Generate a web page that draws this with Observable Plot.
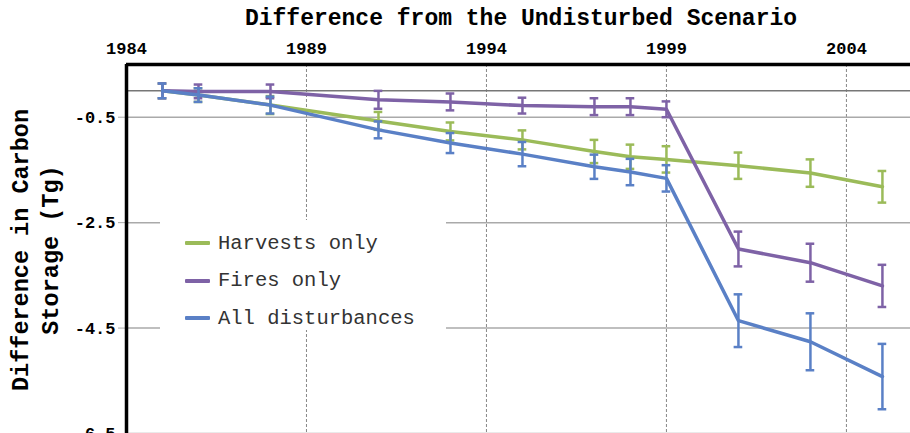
<!DOCTYPE html>
<html><head><meta charset="utf-8">
<script src="https://cdn.jsdelivr.net/npm/d3@7"></script>
<script src="https://cdn.jsdelivr.net/npm/@observablehq/plot@0.6"></script>
<style>
body{margin:0;background:#fff;}
#wrap{position:relative;width:910px;height:433px;overflow:hidden;font-family:"Liberation Mono","Courier New",monospace;}
#chart{position:absolute;left:0;top:0;}
#title{position:absolute;left:221px;width:600px;top:7px;text-align:center;font-weight:bold;font-size:23px;line-height:24px;color:#000;white-space:nowrap;}
#ytitle{position:absolute;left:-113px;top:220px;width:300px;height:60px;transform:rotate(-90deg);transform-origin:center;text-align:center;font-weight:bold;font-size:23.5px;line-height:30px;white-space:nowrap;color:#000;}
#legend{position:absolute;left:160px;top:220px;width:286px;height:110px;background:#fff;}
.row{position:absolute;left:25px;height:24px;display:flex;align-items:center;font-size:20.5px;color:#333;white-space:nowrap;}
.sw{width:25px;height:4px;margin-right:8px;border-radius:1px;}
</style></head>
<body>
<div id="wrap">
  <div id="chart"></div>
  <div id="title">Difference from the Undisturbed Scenario</div>
  <div id="ytitle">Difference in Carbon<br>Storage (Tg)</div>
  <div id="legend"></div>
</div>
<script>
const years = [1985,1986,1988,1991,1993,1995,1997,1998,1999,2001,2003,2005];
const harvest    = [0,-0.08,-0.27,-0.57,-0.77,-0.93,-1.15,-1.25,-1.30,-1.42,-1.56,-1.82];
const harvestErr = [0.14,0.13,0.17,0.17,0.17,0.18,0.22,0.23,0.25,0.25,0.26,0.30];
const fires      = [0,-0.01,-0.01,-0.17,-0.21,-0.28,-0.30,-0.30,-0.35,-3.00,-3.26,-3.70];
const firesErr   = [0.14,0.13,0.13,0.17,0.16,0.15,0.16,0.16,0.15,0.33,0.36,0.40];
const allDist    = [0,-0.08,-0.27,-0.74,-0.99,-1.20,-1.44,-1.54,-1.66,-4.36,-4.76,-5.42];
const allErr     = [0.14,0.13,0.16,0.16,0.19,0.23,0.23,0.25,0.25,0.50,0.54,0.62];
const seriesNames = ["Harvests only","Fires only","All disturbances"];
const colors = ["#9bbb59","#7e62a6","#5a80c6"];
const xTicks = [1984,1989,1994,1999,2004];
const yTicks = [-0.5,-2.5,-4.5,-6.5];

const vals = [harvest, fires, allDist];
const errs = [harvestErr, firesErr, allErr];
const data = [];
seriesNames.forEach((s,i)=>years.forEach((yr,j)=>data.push({series:s, year:yr, v:vals[i][j], lo:vals[i][j]-errs[i][j], hi:vals[i][j]+errs[i][j]})));

const cap = 0.12;
const marks = [
  Plot.gridX(xTicks.slice(1), {stroke:"#888", strokeOpacity:1, strokeDasharray:"3,2", strokeWidth:1}),
  Plot.gridY(yTicks, {stroke:"#aaa", strokeOpacity:1, strokeWidth:1.5}),
  Plot.ruleY([0], {stroke:"#777", strokeWidth:1.5}),
  Plot.axisX({anchor:"top", ticks:xTicks, tickSize:0, tickPadding:11, tickFormat:d=>String(d), fill:"#000", label:null}),
  Plot.axisY({ticks:yTicks, tickSize:8, tickPadding:3, tickFormat:d=>d.toFixed(1).replace("\u2212","-"), stroke:"#aaa", fill:"#000", label:null})
];
seriesNames.forEach((s,i)=>{
  const d = data.filter(r=>r.series===s);
  marks.push(
    Plot.line(d, {x:"year", y:"v", stroke:colors[i], strokeWidth:3.5}),
    Plot.ruleX(d, {x:"year", y1:"lo", y2:"hi", stroke:colors[i], strokeWidth:2.5}),
    Plot.ruleY(d, {y:"hi", x1:r=>r.year-cap, x2:r=>r.year+cap, stroke:colors[i], strokeWidth:2.5}),
    Plot.ruleY(d, {y:"lo", x1:r=>r.year-cap, x2:r=>r.year+cap, stroke:colors[i], strokeWidth:2.5})
  );
});
marks.push(
  Plot.ruleX([1984], {stroke:"#000", strokeWidth:3.5}),
  Plot.ruleY([0.5], {stroke:"#000", strokeWidth:3.5})
);

const chart = Plot.plot({
  width:910, height:433,
  marginLeft:126, marginRight:0, marginTop:64, marginBottom:0,
  x:{domain:[1984,2005.78], label:null},
  y:{domain:[-6.5,0.5], label:null},
  style:{fontFamily:"'Liberation Mono','Courier New',monospace", fontSize:"17px", fontWeight:"bold", background:"#fff", overflow:"visible"},
  marks
});
document.getElementById("chart").appendChild(chart);

const leg = document.getElementById("legend");
seriesNames.forEach((s,i)=>{
  const row = document.createElement("div");
  row.className = "row";
  row.style.top = (11 + i*37.5) + "px";
  row.innerHTML = `<span class="sw" style="background:${colors[i]}"></span><span>${s}</span>`;
  leg.appendChild(row);
});
</script>
</body></html>
